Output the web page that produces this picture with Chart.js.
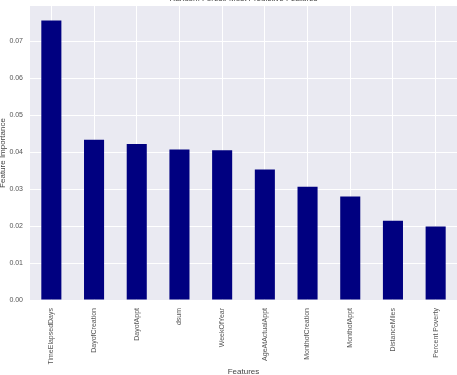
<!DOCTYPE html>
<html>
<head>
<meta charset="utf-8">
<script src="https://cdn.jsdelivr.net/npm/chart.js@4/dist/chart.umd.min.js"></script>
<style>
  html, body { margin: 0; padding: 0; background: #fff; }
  #wrap { width: 457px; height: 375px; }
</style>
</head>
<body>
<div id="wrap"><canvas id="featChart"></canvas></div>
<script>
const features = [
    'TimeElapsedDays',
    'DayofCreation',
    'DayofAppt',
    'dsum',
    'WeekOfYear',
    'AgeAtActualAppt',
    'MonthofCreation',
    'MonthofAppt',
    'DistanceMiles',
    'Percent Poverty'
]
const importance = [0.0756, 0.0433, 0.0422, 0.0407, 0.0405, 0.0353, 0.0306, 0.0280, 0.0214, 0.0199]
const yTicks = [0.00, 0.01, 0.02, 0.03, 0.04, 0.05, 0.06, 0.07]

const font = 'Liberation Sans, Arial, sans-serif'

// seaborn-ish grey plot background
const plotBg = {
    id: 'plotBg',
    beforeDraw(chart) {
        const { ctx, chartArea: a } = chart
        ctx.save()
        ctx.fillStyle = '#eaeaf2'
        ctx.fillRect(a.left, a.top, a.right - a.left, a.bottom - a.top)
        ctx.restore()
    }
}

new Chart(document.getElementById('featChart').getContext('2d'), {
    type: 'bar',
    data: {
        labels: features,
        datasets: [{
            label: 'importance',
            data: importance,
            backgroundColor: '#000080',
            borderWidth: 0,
            barPercentage: 0.47,
            categoryPercentage: 1
        }]
    },
    options: {
        responsive: true,
        maintainAspectRatio: false,
        animation: false,
        layout: { padding: 0 },
        plugins: {
            legend: { display: false },
            tooltip: { enabled: false },
            title: {
                display: true,
                text: 'Random Forest: Most Predictive Features',
                fullSize: false,
                color: '#444',
                font: { family: font, size: 8, weight: 'normal' },
                padding: { top: -6.5, bottom: 2.9 }
            }
        },
        scales: {
            x: {
                border: { display: false },
                grid: { color: '#ffffff', lineWidth: 1, offset: false, drawTicks: false },
                ticks: {
                    autoSkip: false,
                    minRotation: 90,
                    maxRotation: 90,
                    padding: 8,
                    color: '#555',
                    font: { family: font, size: 7 }
                },
                title: {
                    display: true,
                    text: 'Features',
                    color: '#444',
                    font: { family: font, size: 8 },
                    padding: { top: 0, bottom: -1.5 }
                },
                afterFit(scale) {
                    scale.height = 75
                    scale.paddingLeft = 0
                    scale.paddingRight = 0
                }
            },
            y: {
                min: 0,
                max: 0.0795,
                border: { display: false },
                grid: { color: '#ffffff', lineWidth: 1, drawTicks: false },
                ticks: {
                    stepSize: 0.01,
                    padding: 7,
                    color: '#555',
                    font: { family: font, size: 7 },
                    callback: v => v.toFixed(2)
                },
                afterBuildTicks(scale) {
                    scale.ticks = yTicks.map(v => ({ value: v }))
                },
                title: {
                    display: true,
                    text: 'Feature Importance',
                    color: '#444',
                    font: { family: font, size: 8 },
                    padding: { top: -2, bottom: 0 }
                },
                afterFit(scale) {
                    scale.width = 30
                    scale.paddingTop = 0
                    scale.paddingBottom = 0
                }
            }
        }
    },
    plugins: [plotBg]
})
</script>
</body>
</html>
